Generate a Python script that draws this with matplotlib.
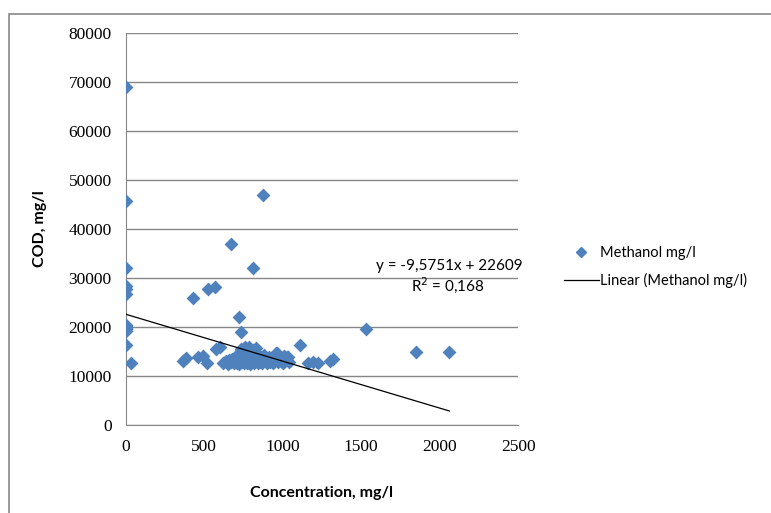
import numpy as np
import matplotlib.pyplot as plt
from matplotlib.lines import Line2D
from matplotlib.patches import Rectangle

# === Data ===
conc = [0, 0, 0, 0, 0, 0, 0, 0, 0, 0, 0, 0, 0, 32,
        366, 383, 429, 461, 493, 515, 525, 568, 574, 600, 668, 719, 736, 814, 872,
        961, 1035, 1110, 1163, 1195, 1227, 1301, 1322, 1531, 1848, 2062,
        620, 640, 650, 660, 670, 680, 690, 700, 705, 710, 715, 720, 725, 730,
        735, 740, 745, 750, 755, 760, 765, 770, 775, 780, 785, 790, 795, 800,
        805, 810, 815, 820, 825, 830, 835, 840, 845, 850, 855, 860, 870, 880,
        890, 900, 910, 920, 930, 940, 950, 960, 970, 980, 990, 1000, 1010,
        1020, 1030, 1040]
cod = [69000, 45700, 32000, 28300, 27700, 26700, 20500, 20000, 19600, 19200,
       16300, 20200, 19800, 12700,
       13000, 13600, 26000, 13900, 14000, 12600, 27700, 28100, 15600, 16000,
       37000, 22000, 19000, 32000, 47000,
       14600, 13900, 16400, 12600, 12800, 12700, 13000, 13500, 19500, 15000, 15000,
       12700, 13000, 12500, 13300, 12800, 13500, 12600, 13100, 14000, 12700,
       13600, 12500, 14500, 13000, 15500, 12800, 13800, 14200, 12600, 15900,
       13400, 12700, 14800, 13200, 16000, 12500, 13900, 14400, 12900, 15300,
       13500, 12700, 14000, 15800, 13100, 12600, 14300, 13600, 12800, 13900,
       12700, 14200, 13300, 12600, 13800, 12900, 13400, 12700, 13200, 14600,
       12800, 13600, 13100, 12700, 14000, 13300, 13900, 12800]

# trendline from the chart label
slope = -9.5751
intercept = 22609
eq_text = "y = -9,5751x + 22609"
r2_text = "R$^2$ = 0,168"

xticks = [0, 500, 1000, 1500, 2000, 2500]
yticks = [0, 10000, 20000, 30000, 40000, 50000, 60000, 70000, 80000]

blue = "#4F81BD"
grid_c = "#878787"

fig = plt.figure(figsize=(7.71, 5.13), dpi=100)
ax = fig.add_axes([0.163, 0.1715, 0.509, 0.7642])

ax.scatter(conc, cod, marker="D", s=50, color=blue, zorder=3, linewidths=0)

xt = np.array([min(conc), max(conc)])
ax.plot(xt, slope * xt + intercept, color="black", lw=0.9, zorder=4)

ax.set_xlim(0, 2500)
ax.set_ylim(0, 80000)
ax.set_xticks(xticks)
ax.set_yticks(yticks)
ax.tick_params(length=0, labelsize=12.5)
for lab in ax.get_xticklabels() + ax.get_yticklabels():
    lab.set_family("Liberation Serif")
ax.tick_params(axis="x", pad=10)
ax.tick_params(axis="y", pad=10)
ax.grid(axis="y", color=grid_c, lw=1)
ax.set_axisbelow(True)
for s in ["top", "right"]:
    ax.spines[s].set_visible(False)
for s in ["left", "bottom"]:
    ax.spines[s].set_color(grid_c)

ax.set_xlabel("Concentration, mg/l", family="Lato", fontweight="bold",
              fontsize=11.5)
ax.set_ylabel("COD, mg/l", family="Lato", fontweight="bold", fontsize=11.5)
ax.yaxis.set_label_coords(-0.2, 0.5)
ax.xaxis.set_label_coords(0.5, -0.155)

ax.text(2530, 32500, eq_text, ha="right", va="center", family="Lato", fontsize=11)
ax.text(2055, 28500, r2_text, ha="center", va="center", family="Lato", fontsize=11)

# legend
handles = [Line2D([], [], marker="D", ls="none", color=blue, markersize=5),
           Line2D([], [], color="black", lw=0.9)]
fig.legend(handles, ["Methanol mg/l", "Linear (Methanol mg/l)"],
           loc="center left", bbox_to_anchor=(0.714, 0.48), frameon=False,
           prop={"family": "Lato", "size": 10.5}, handlelength=2.4,
           handletextpad=0.1, labelspacing=0.9)

# chart area border (cropped at right/bottom)
fig.patches.append(Rectangle((9 / 771, -0.1), 1.2, 1 - 14 / 513 + 0.1,
                             transform=fig.transFigure, fill=False,
                             edgecolor=grid_c, lw=1.2))

fig.savefig("out.png", dpi=100)
